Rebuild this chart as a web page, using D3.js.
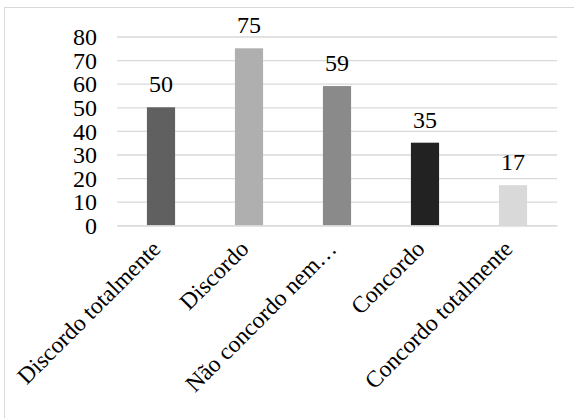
<!DOCTYPE html>
<html><head><meta charset="utf-8">
<script src="https://cdn.jsdelivr.net/npm/d3@7"></script>
<style>body{margin:0;background:#fff}svg{display:block}
svg text{font-family:"Liberation Serif","Times New Roman","DejaVu Serif",serif !important;}
</style>
</head><body>
<script>
const categories = ["Discordo totalmente","Discordo","Não concordo nem…","Concordo","Concordo totalmente"];
const values = [50,75,59,35,17];
const colors = ["#606060","#afafaf","#8a8a8a","#222222","#d9d9d9"];
const yTicks = [0,10,20,30,40,50,60,70,80];

const W=574,H=418;
const m={left:117,right:17,top:36.5,bottom:192.7};
const svg=d3.select("body").append("svg").attr("width",W).attr("height",H);
svg.append("rect").attr("x",4.5).attr("y",7.5).attr("width",W+10).attr("height",H+10)
  .attr("fill","#fff").attr("stroke","#d9d9d9").attr("stroke-width",1);
const x=d3.scaleBand().domain(categories).range([m.left,W-m.right]).paddingInner(0.68).paddingOuter(0.34);
const y=d3.scaleLinear().domain([0,80]).range([H-m.bottom,m.top]);
const fs=24, fsx=23.5;

const yAxis=svg.append("g").attr("transform",`translate(${m.left},0)`)
  .call(d3.axisLeft(y).tickValues(yTicks).tickSize(-(W-m.left-m.right)).tickPadding(20));
yAxis.select(".domain").remove();
yAxis.selectAll(".tick line").attr("stroke","#d9d9d9").attr("stroke-width",1.3);
yAxis.selectAll(".tick text").attr("font-size",fs).attr("fill","#000").attr("dy","0.34em");

svg.selectAll("rect.bar").data(values).enter().append("rect").attr("class","bar")
  .attr("x",(d,i)=>x(categories[i])).attr("width",x.bandwidth())
  .attr("y",d=>y(d)).attr("height",d=>y(0)-y(d)).attr("fill",(d,i)=>colors[i]);

svg.selectAll("text.lbl").data(values).enter().append("text").attr("class","lbl")
  .attr("x",(d,i)=>x(categories[i])+x.bandwidth()/2).attr("y",d=>y(d)-15)
  .attr("text-anchor","middle").attr("font-size",fs).text(d=>d);

const xAxis=svg.append("g").attr("transform",`translate(0,${y(0)})`)
  .call(d3.axisBottom(x).tickSize(0).tickPadding(0));
xAxis.select(".domain").attr("stroke","#d9d9d9").attr("stroke-width",1.3);
xAxis.selectAll(".tick text").attr("font-size",fsx).attr("fill","#000")
  .attr("text-anchor","end").attr("dy",0)
  .attr("transform","translate(1,25) rotate(-45)");
</script>
</body></html>
